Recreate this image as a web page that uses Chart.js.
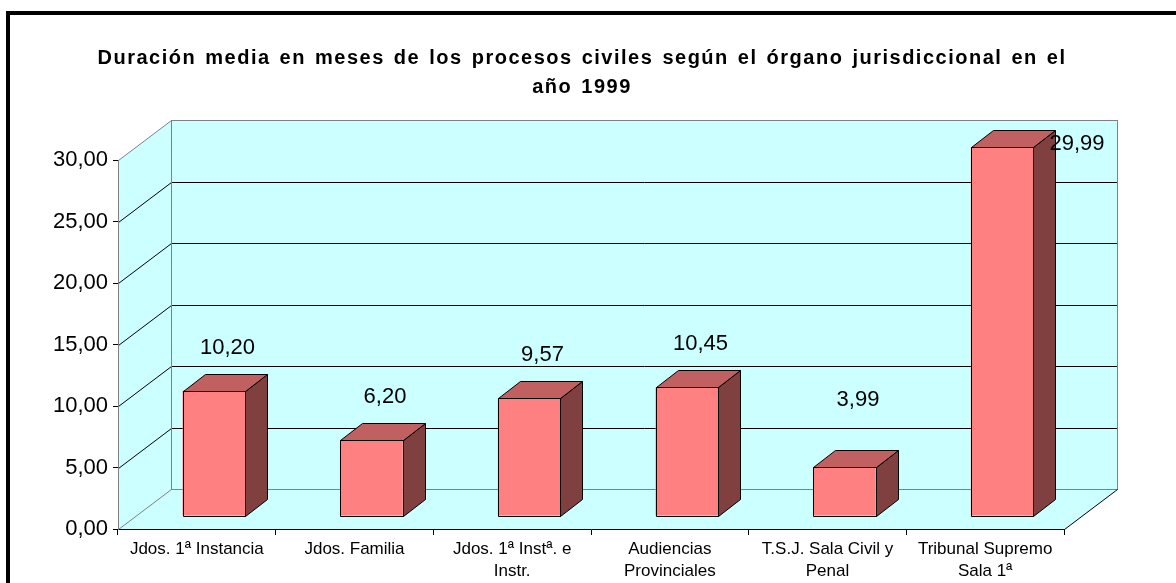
<!DOCTYPE html>
<html>
<head>
<meta charset="utf-8">
<script src="https://cdn.jsdelivr.net/npm/chart.js@4.4.1/dist/chart.umd.min.js"></script>
<style>
  body { margin: 0; background: #fff; }
  canvas { display: block; }
</style>
</head>
<body>
<canvas id="durationChart" width="1176" height="583"></canvas>
<script>
var titleLines = ['Duración media en meses de los procesos civiles según el órgano jurisdiccional en el', 'año 1999'];
var categories = [
    ['Jdos. 1ª Instancia'],
    ['Jdos. Familia'],
    ['Jdos. 1ª Instª. e', 'Instr.'],
    ['Audiencias', 'Provinciales'],
    ['T.S.J. Sala Civil y', 'Penal'],
    ['Tribunal Supremo', 'Sala 1ª']
];
var duracion = [10.20, 6.20, 9.57, 10.45, 3.99, 29.99];
var yMin = 0, yMax = 30, yStep = 5;

var FONT = 'Arial, "Liberation Sans", sans-serif';
var WALL = '#CCFFFF';
// profundidad del "3D"
var DEPTH_X = 53, DEPTH_Y = -40;
var BAR_SHIFT_X = 17, BAR_SHIFT_Y = -13;
var BAR_DX = 22, BAR_DY = -17;

function fmt(v) {
    return Number(v).toFixed(2).replace('.', ',');
}

function line(ctx, x1, y1, x2, y2, color) {
    ctx.beginPath();
    ctx.moveTo(x1, y1);
    ctx.lineTo(x2, y2);
    ctx.strokeStyle = color;
    ctx.lineWidth = 1;
    ctx.stroke();
}

function poly(ctx, pts, fill, stroke) {
    ctx.beginPath();
    ctx.moveTo(pts[0][0], pts[0][1]);
    for (var i = 1; i < pts.length; i++) ctx.lineTo(pts[i][0], pts[i][1]);
    ctx.closePath();
    if (fill) { ctx.fillStyle = fill; ctx.fill(); }
    if (stroke) { ctx.strokeStyle = stroke; ctx.lineWidth = 1; ctx.stroke(); }
}

var box3d = {
    id: 'box3d',
    beforeDraw: function (chart) {
        var ctx = chart.ctx;
        var a = chart.chartArea;
        var ys = chart.scales.y;
        var L = a.left + 0.5, R = a.right + 0.5, T = a.top + 0.5, B = a.bottom + 0.5;

        ctx.save();
        ctx.fillStyle = '#fff';
        ctx.fillRect(0, 0, chart.width, chart.height);

        // marco exterior
        ctx.lineWidth = 4;
        ctx.strokeStyle = '#000';
        ctx.strokeRect(8, 13, chart.width + 20, chart.height + 20);

        // título
        ctx.fillStyle = '#000';
        ctx.font = 'bold 20px ' + FONT;
        ctx.textAlign = 'center';
        ctx.textBaseline = 'middle';
        ctx.letterSpacing = '1.5px';
        ctx.wordSpacing = '2px';
        ctx.fillText(titleLines[0], 582, 58);
        ctx.fillText(titleLines[1], 582, 87);
        ctx.letterSpacing = '0px';
        ctx.wordSpacing = '0px';

        // pared lateral, suelo y fondo
        poly(ctx, [[L, T], [L + DEPTH_X, T + DEPTH_Y], [L + DEPTH_X, B + DEPTH_Y], [L, B]], WALL);
        poly(ctx, [[L, B], [L + DEPTH_X, B + DEPTH_Y], [R + DEPTH_X, B + DEPTH_Y], [R, B]], WALL);
        ctx.fillStyle = WALL;
        ctx.fillRect(L + DEPTH_X, T + DEPTH_Y, R - L, B - T);

        for (var v = yMin + yStep; v < yMax; v += yStep) {
            var y = Math.round(ys.getPixelForValue(v)) + 0.5;
            line(ctx, L, y, L + DEPTH_X, y + DEPTH_Y, '#000');
            line(ctx, L + DEPTH_X, y + DEPTH_Y, R + DEPTH_X, y + DEPTH_Y, '#000');
        }
        ctx.strokeStyle = '#808080';
        ctx.lineWidth = 1;
        ctx.strokeRect(L + DEPTH_X, T + DEPTH_Y, R - L, B - T);
        line(ctx, L, T, L + DEPTH_X, T + DEPTH_Y, '#808080');
        line(ctx, L, B, L + DEPTH_X, B + DEPTH_Y, '#808080');
        line(ctx, L + DEPTH_X, T + DEPTH_Y, L + DEPTH_X, B + DEPTH_Y, '#808080');
        line(ctx, R, B, R + DEPTH_X, B + DEPTH_Y, '#000');
        ctx.restore();
    },
    beforeDatasetsDraw: function (chart) {
        chart.ctx.save();
        chart.ctx.translate(BAR_SHIFT_X, BAR_SHIFT_Y);
    },
    afterDatasetsDraw: function (chart) {
        var ctx = chart.ctx;
        ctx.restore();
        var a = chart.chartArea;
        var meta = chart.getDatasetMeta(0);
        ctx.save();
        ctx.lineJoin = 'miter';
        meta.data.forEach(function (bar, i) {
            var p = bar.getProps(['x', 'y', 'base', 'width'], true);
            var l = Math.round(p.x - p.width / 2 + BAR_SHIFT_X) + 0.5;
            var r = Math.round(p.x + p.width / 2 + BAR_SHIFT_X) + 0.5;
            var t = Math.round(p.y + BAR_SHIFT_Y) + 0.5;
            var b = Math.round(p.base + BAR_SHIFT_Y) + 0.5;
            // lado
            poly(ctx, [[r, t], [r + BAR_DX, t + BAR_DY], [r + BAR_DX, b + BAR_DY], [r, b]], '#804040', '#000');
            // tapa
            poly(ctx, [[l, t], [l + BAR_DX, t + BAR_DY], [r + BAR_DX, t + BAR_DY], [r, t]], '#C06060', '#000');
            // frente
            poly(ctx, [[l, t], [r, t], [r, b], [l, b]], null, '#000');

            // etiqueta
            ctx.fillStyle = '#000';
            ctx.font = '22px ' + FONT;
            ctx.textBaseline = 'middle';
            var ly = Math.min(t + BAR_DY - 27, a.bottom - 129);
            if (ly < a.top - 10) {
                ctx.textAlign = 'left';
                ctx.fillText(fmt(duracion[i]), r + 16, t - 4);
            } else {
                ctx.textAlign = 'center';
                ctx.fillText(fmt(duracion[i]), (l + r) / 2 + 13, ly);
            }
        });
        ctx.restore();
    }
};

var ctx = document.getElementById('durationChart').getContext('2d');
var durationChart = new Chart(ctx, {
    type: 'bar',
    data: {
        labels: categories,
        datasets: [{
            label: 'Duración media (meses)',
            data: duracion,
            backgroundColor: '#FF8080',
            borderColor: '#000',
            borderWidth: 0,
            categoryPercentage: 1,
            barPercentage: 0.397,
            clip: false
        }]
    },
    options: {
        responsive: false,
        animation: false,
        devicePixelRatio: 1,
        layout: {
            padding: { top: 160, right: 112, left: 0, bottom: 0 }
        },
        plugins: {
            legend: { display: false },
            title: { display: false },
            tooltip: { enabled: false }
        },
        scales: {
            x: {
                afterFit: function (s) { s.height = 54; },
                grid: {
                    drawOnChartArea: false,
                    tickLength: 6,
                    color: '#000',
                    offset: true
                },
                border: { color: '#000', width: 1 },
                ticks: {
                    color: '#000',
                    padding: 3,
                    maxRotation: 0,
                    autoSkip: false,
                    font: { family: FONT, size: 17, lineHeight: 1.3 }
                }
            },
            y: {
                min: yMin,
                max: yMax,
                afterFit: function (s) { s.width = 118; },
                grid: {
                    drawOnChartArea: false,
                    tickLength: 5,
                    color: '#000'
                },
                border: { color: '#808080', width: 1 },
                ticks: {
                    stepSize: yStep,
                    color: '#000',
                    padding: 5,
                    font: { family: FONT, size: 22 },
                    callback: function (value) { return fmt(value); }
                }
            }
        }
    },
    plugins: [box3d]
});
</script>
</body>
</html>
